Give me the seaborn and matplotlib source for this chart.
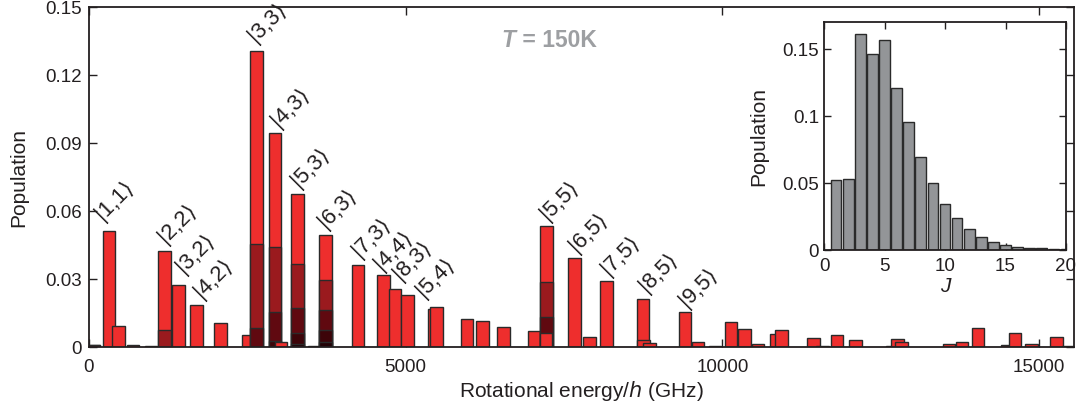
import numpy as np
import pandas as pd
import matplotlib
matplotlib.use("Agg")
import matplotlib.pyplot as plt
import seaborn as sns

# ---------------- data ----------------
# main spectrum: bar positions (rotational energy / h, GHz) and total population
energy = [80, 316, 463, 695, 980, 1195, 1413, 1702, 2073, 2508, 2642, 2937, 3297,
          3561, 3734, 4248, 4652, 4832, 5026, 5452, 5487, 5966, 6218, 6545, 7024,
          7224, 7661, 7905, 8167, 8745, 8752, 8853, 9411, 9616, 9885, 10137, 10347,
          10564, 10853, 10936, 11445, 11584, 11813, 12103, 12679, 12766, 12831,
          13580, 13785, 14035, 14496, 14622, 14882, 15274, 15463]
population = [0.0007, 0.0510, 0.0094, 0.0010, 0.0003, 0.0423, 0.0273, 0.0184, 0.0107,
              0.0054, 0.1305, 0.0943, 0.0673, 0.0005, 0.0493, 0.0362, 0.0316, 0.0256,
              0.0230, 0.0168, 0.0178, 0.0122, 0.0115, 0.0090, 0.0069, 0.0535, 0.0393,
              0.0045, 0.0290, 0.0212, 0.0030, 0.0016, 0.0153, 0.0020, 0.0006, 0.0109,
              0.0078, 0.0013, 0.0057, 0.0076, 0.0041, 0.0006, 0.0052, 0.0030, 0.0003,
              0.0034, 0.0022, 0.0013, 0.0023, 0.0085, 0.0007, 0.0062, 0.0012, 0.0043,
              0.0004]

# stacked (darker) contributions: cumulative tops of lower layers
stack_energy = [80, 1195, 2642, 2937, 3297, 3734, 7224]
stack_top2 = [0.0007, 0.0076, 0.0453, 0.0440, 0.0368, 0.0297, 0.0288]
stack_top3 = [0.0, 0.0, 0.0083, 0.0153, 0.0171, 0.0162, 0.0134]
stack_top4 = [0.0, 0.0, 0.0, 0.0028, 0.0061, 0.0073, 0.0]
stack_top5 = [0.0, 0.0, 0.0, 0.0, 0.0012, 0.0024, 0.0]

# small bars drawn on top of the stacks
overlay_energy = [3032, 7215]
overlay_population = [0.0020, 0.0062]

# state labels and their anchor points (data coordinates)
ket_labels = ["|1,1⟩", "|2,2⟩", "|3,2⟩", "|4,2⟩", "|3,3⟩", "|4,3⟩", "|5,3⟩", "|6,3⟩",
              "|7,3⟩", "|4,4⟩", "|8,3⟩", "|5,4⟩", "|5,5⟩", "|6,5⟩", "|7,5⟩", "|8,5⟩",
              "|9,5⟩"]
ket_x = [274, 1259, 1548, 1837, 2690, 3048, 3364, 3795, 4322, 4679, 4970, 5338,
         7300, 7758, 8259, 8864, 9495]
ket_y = [0.0546, 0.0444, 0.0312, 0.0202, 0.1334, 0.0959, 0.0694, 0.0510, 0.0386,
         0.0327, 0.0282, 0.0209, 0.0547, 0.0408, 0.0305, 0.0231, 0.0165]

# inset: population per J
J = list(range(1, 21))
pop_J = [0.0520, 0.0525, 0.1606, 0.1460, 0.1564, 0.1205, 0.0955, 0.0688, 0.0498,
         0.0344, 0.0233, 0.0151, 0.0094, 0.0057, 0.0035, 0.0022, 0.0015, 0.0010,
         0.0005, 0.0002]

main_yticks = [0, 0.03, 0.06, 0.09, 0.12, 0.15]
main_yticklabels = ["0", "0.03", "0.06", "0.09", "0.12", "0.15"]
main_xticks = [0, 5000, 10000, 15000]
main_xticklabels = ["0", "5000", "10000", "15000"]
inset_yticks = [0, 0.05, 0.1, 0.15]
inset_yticklabels = ["0", "0.05", "0.1", "0.15"]
inset_xticks = [0, 5, 10, 15, 20]

# ---------------- style ----------------
sns.set_style("ticks")
plt.rcParams["font.family"] = ["Liberation Sans", "DejaVu Sans"]
INK = "#231F20"
EDGE = "#2A2A2A"
RED = "#EE2E2D"
DARKS = ["#9A1A1E", "#600910", "#3D0409", "#230206"]
BAR_W = 200.0  # GHz

fig = plt.figure(figsize=(10.76, 4.10), dpi=100)
ax = fig.add_axes([89 / 1076, 1 - 348 / 410, (1074 - 89) / 1076, (348 - 8) / 410])


def draw_bars(axis, xs, ys, color, width_native, lw=1.0):
    xs = np.asarray(xs, float)
    ys = np.asarray(ys, float)
    keep = ys > 0
    xs, ys = xs[keep], ys[keep]
    u = np.unique(xs)
    native = float(np.min(np.diff(u))) if len(u) > 1 else 1.0
    df = pd.DataFrame({"x": xs, "y": ys})
    sns.barplot(data=df, x="x", y="y", native_scale=True, orient="x",
                width=width_native / native, color=color, saturation=1,
                edgecolor=EDGE, linewidth=lw, errorbar=None, ax=axis)


draw_bars(ax, energy, population, RED, BAR_W)
for tops, col in zip([stack_top2, stack_top3, stack_top4, stack_top5], DARKS):
    draw_bars(ax, stack_energy, tops, col, BAR_W)
draw_bars(ax, overlay_energy, overlay_population, RED, BAR_W)

ax.set_xlim(0, 15553)
ax.set_ylim(0, 0.15)
ax.set_xticks(main_xticks)
ax.set_xticklabels(main_xticklabels)
ax.set_yticks(main_yticks)
ax.set_yticklabels(main_yticklabels)
ax.tick_params(direction="in", top=True, right=True, length=6, width=1,
               labelsize=13.5, colors=INK)
ax.tick_params(axis="x", pad=8)
ax.tick_params(axis="y", pad=5)
for sp in ax.spines.values():
    sp.set_visible(True)
    sp.set_color(INK)
    sp.set_linewidth(1.3)
ax.set_xlabel("Rotational energy/$h$ (GHz)", fontsize=15, color=INK, labelpad=2)
ax.set_ylabel("Population", fontsize=15, color=INK, labelpad=12)

for lab, lx, ly in zip(ket_labels, ket_x, ket_y):
    ax.text(lx, ly, lab, rotation=45, rotation_mode="anchor", ha="left",
            va="bottom", fontsize=16, color=INK)

t1 = ax.text(6517, 0.1328, "T", fontsize=16.5, fontweight="bold", style="italic",
             color="#9D9FA2", ha="left", va="baseline")
ax.annotate(" = 150K", xy=(1, 0), xycoords=t1, fontsize=16.5, fontweight="bold",
            color="#9D9FA2", ha="left", va="bottom")

# ---------------- inset ----------------
axi = fig.add_axes([824 / 1076, 1 - 250.7 / 410, (1066 - 824) / 1076, (250.7 - 22.7) / 410])
axi.set_facecolor("white")
draw_bars(axi, J, pop_J, "#939598", 0.88)
axi.set_xlim(0, 20)
axi.set_ylim(0, 0.17)
axi.set_xticks(inset_xticks)
axi.set_xticklabels([str(v) for v in inset_xticks])
axi.set_yticks(inset_yticks)
axi.set_yticklabels(inset_yticklabels)
axi.tick_params(direction="in", top=True, right=True, length=5, width=1,
                labelsize=13.5, colors=INK)
axi.tick_params(axis="x", pad=5)
for sp in axi.spines.values():
    sp.set_visible(True)
    sp.set_color(INK)
    sp.set_linewidth(1.3)
axi.set_xlabel("J", fontsize=15, style="italic", color=INK, labelpad=2)
axi.set_ylabel("Population", fontsize=15, color=INK, labelpad=10)

fig.savefig("out.png", dpi=100)
